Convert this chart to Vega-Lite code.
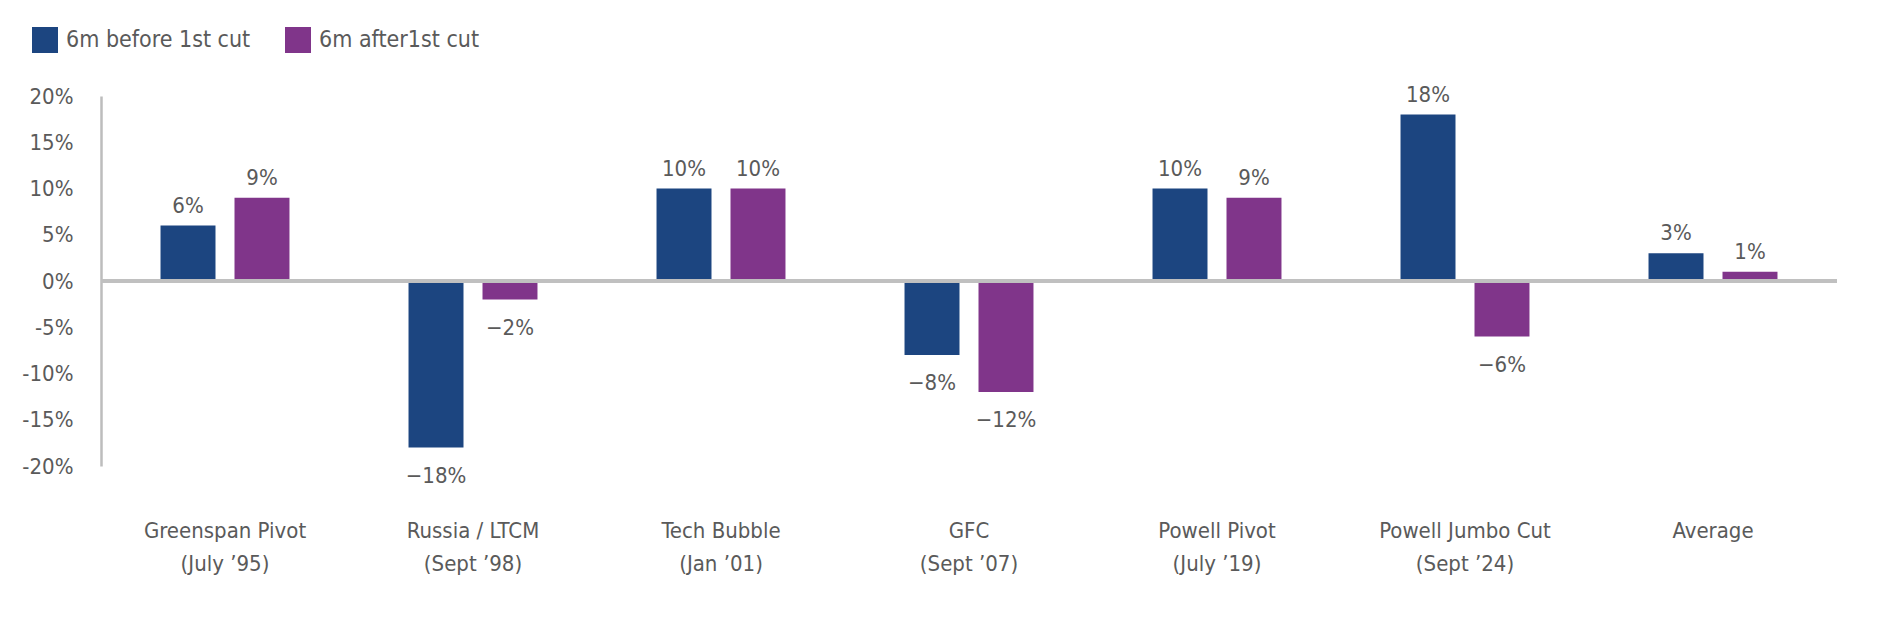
{
  "$schema": "https://vega.github.io/schema/vega-lite/v6.json",
  "width": 1736,
  "height": 370,
  "autosize": "none",
  "padding": {"left": 101, "top": 96, "right": 53, "bottom": 168},
  "background": "white",
  "config": {
    "view": {"stroke": null},
    "font": "DejaVu Sans Condensed, Liberation Sans Narrow, sans-serif",
    "text": {"font": "DejaVu Sans Condensed, Liberation Sans Narrow, sans-serif"}
  },
  "data": {
    "values": [
      {"event": "Greenspan Pivot|(July ’95)", "series": "6m before 1st cut", "value": 0.06},
      {"event": "Greenspan Pivot|(July ’95)", "series": "6m after1st cut", "value": 0.09},
      {"event": "Russia / LTCM|(Sept ’98)", "series": "6m before 1st cut", "value": -0.18},
      {"event": "Russia / LTCM|(Sept ’98)", "series": "6m after1st cut", "value": -0.02},
      {"event": "Tech Bubble|(Jan ’01)", "series": "6m before 1st cut", "value": 0.10},
      {"event": "Tech Bubble|(Jan ’01)", "series": "6m after1st cut", "value": 0.10},
      {"event": "GFC|(Sept ’07)", "series": "6m before 1st cut", "value": -0.08},
      {"event": "GFC|(Sept ’07)", "series": "6m after1st cut", "value": -0.12},
      {"event": "Powell Pivot|(July ’19)", "series": "6m before 1st cut", "value": 0.10},
      {"event": "Powell Pivot|(July ’19)", "series": "6m after1st cut", "value": 0.09},
      {"event": "Powell Jumbo Cut|(Sept ’24)", "series": "6m before 1st cut", "value": 0.18},
      {"event": "Powell Jumbo Cut|(Sept ’24)", "series": "6m after1st cut", "value": -0.06},
      {"event": "Average", "series": "6m before 1st cut", "value": 0.03},
      {"event": "Average", "series": "6m after1st cut", "value": 0.01}
    ]
  },
  "layer": [
    {
      "mark": {"type": "bar"},
      "encoding": {
        "x": {
          "field": "event", "type": "nominal", "sort": null,
          "scale": {"paddingInner": 0.48, "paddingOuter": 0.24},
          "axis": {
            "title": null, "domain": false, "ticks": false, "tickSize": 0,
            "labelAngle": 0, "labelFontSize": 22, "labelLineHeight": 33,
            "labelPadding": 54, "labelColor": "#5a5a5a", "labelLimit": 0,
            "labelExpr": "split(datum.label, '|')",
            "labelFont": "DejaVu Sans Condensed, Liberation Sans Narrow, sans-serif"
          }
        },
        "xOffset": {
          "field": "series", "type": "nominal",
          "scale": {"domain": ["6m before 1st cut", "6m after1st cut"], "paddingInner": 0.257, "paddingOuter": 0}
        },
        "y": {
          "field": "value", "type": "quantitative",
          "scale": {"domain": [-0.2, 0.2], "nice": false, "zero": false},
          "axis": {
            "title": null, "grid": false, "ticks": false, "tickSize": 0,
            "values": [-0.2, -0.15, -0.1, -0.05, 0, 0.05, 0.1, 0.15, 0.2],
            "labelExpr": "(datum.value < -0.001 ? '-' : '') + round(abs(datum.value) * 100) + '%'",
            "labelFontSize": 22, "labelColor": "#5a5a5a", "labelPadding": 28,
            "labelFont": "DejaVu Sans Condensed, Liberation Sans Narrow, sans-serif",
            "domainColor": "#bdbdbd", "domainWidth": 2.5
          }
        },
        "color": {
          "field": "series", "type": "nominal",
          "scale": {"domain": ["6m before 1st cut", "6m after1st cut"], "range": ["#1c4580", "#80358a"]},
          "legend": {
            "title": null, "orient": "none", "legendX": -69, "legendY": -69,
            "direction": "horizontal", "symbolType": "square", "symbolSize": 676,
            "symbolStrokeWidth": 0, "labelFontSize": 23, "labelColor": "#5a5a5a",
            "labelOffset": 8, "columnPadding": 34, "padding": 0, "labelLimit": 0,
            "labelFont": "DejaVu Sans Condensed, Liberation Sans Narrow, sans-serif"
          }
        }
      }
    },
    {
      "mark": {"type": "rule", "color": "#c0c0c0", "strokeWidth": 3},
      "encoding": {"y": {"datum": 0}}
    },
    {
      "transform": [{"filter": "datum.value >= 0"}],
      "mark": {"type": "text", "baseline": "bottom", "dy": -8, "fontSize": 22, "color": "#5a5a5a"},
      "encoding": {
        "x": {"field": "event", "type": "nominal", "sort": null},
        "xOffset": {"field": "series", "type": "nominal"},
        "y": {"field": "value", "type": "quantitative"},
        "text": {"field": "value", "type": "quantitative", "format": ".0%"}
      }
    },
    {
      "transform": [{"filter": "datum.value < 0"}],
      "mark": {"type": "text", "baseline": "top", "dy": 18, "fontSize": 22, "color": "#5a5a5a"},
      "encoding": {
        "x": {"field": "event", "type": "nominal", "sort": null},
        "xOffset": {"field": "series", "type": "nominal"},
        "y": {"field": "value", "type": "quantitative"},
        "text": {"field": "value", "type": "quantitative", "format": ".0%"}
      }
    }
  ]
}
